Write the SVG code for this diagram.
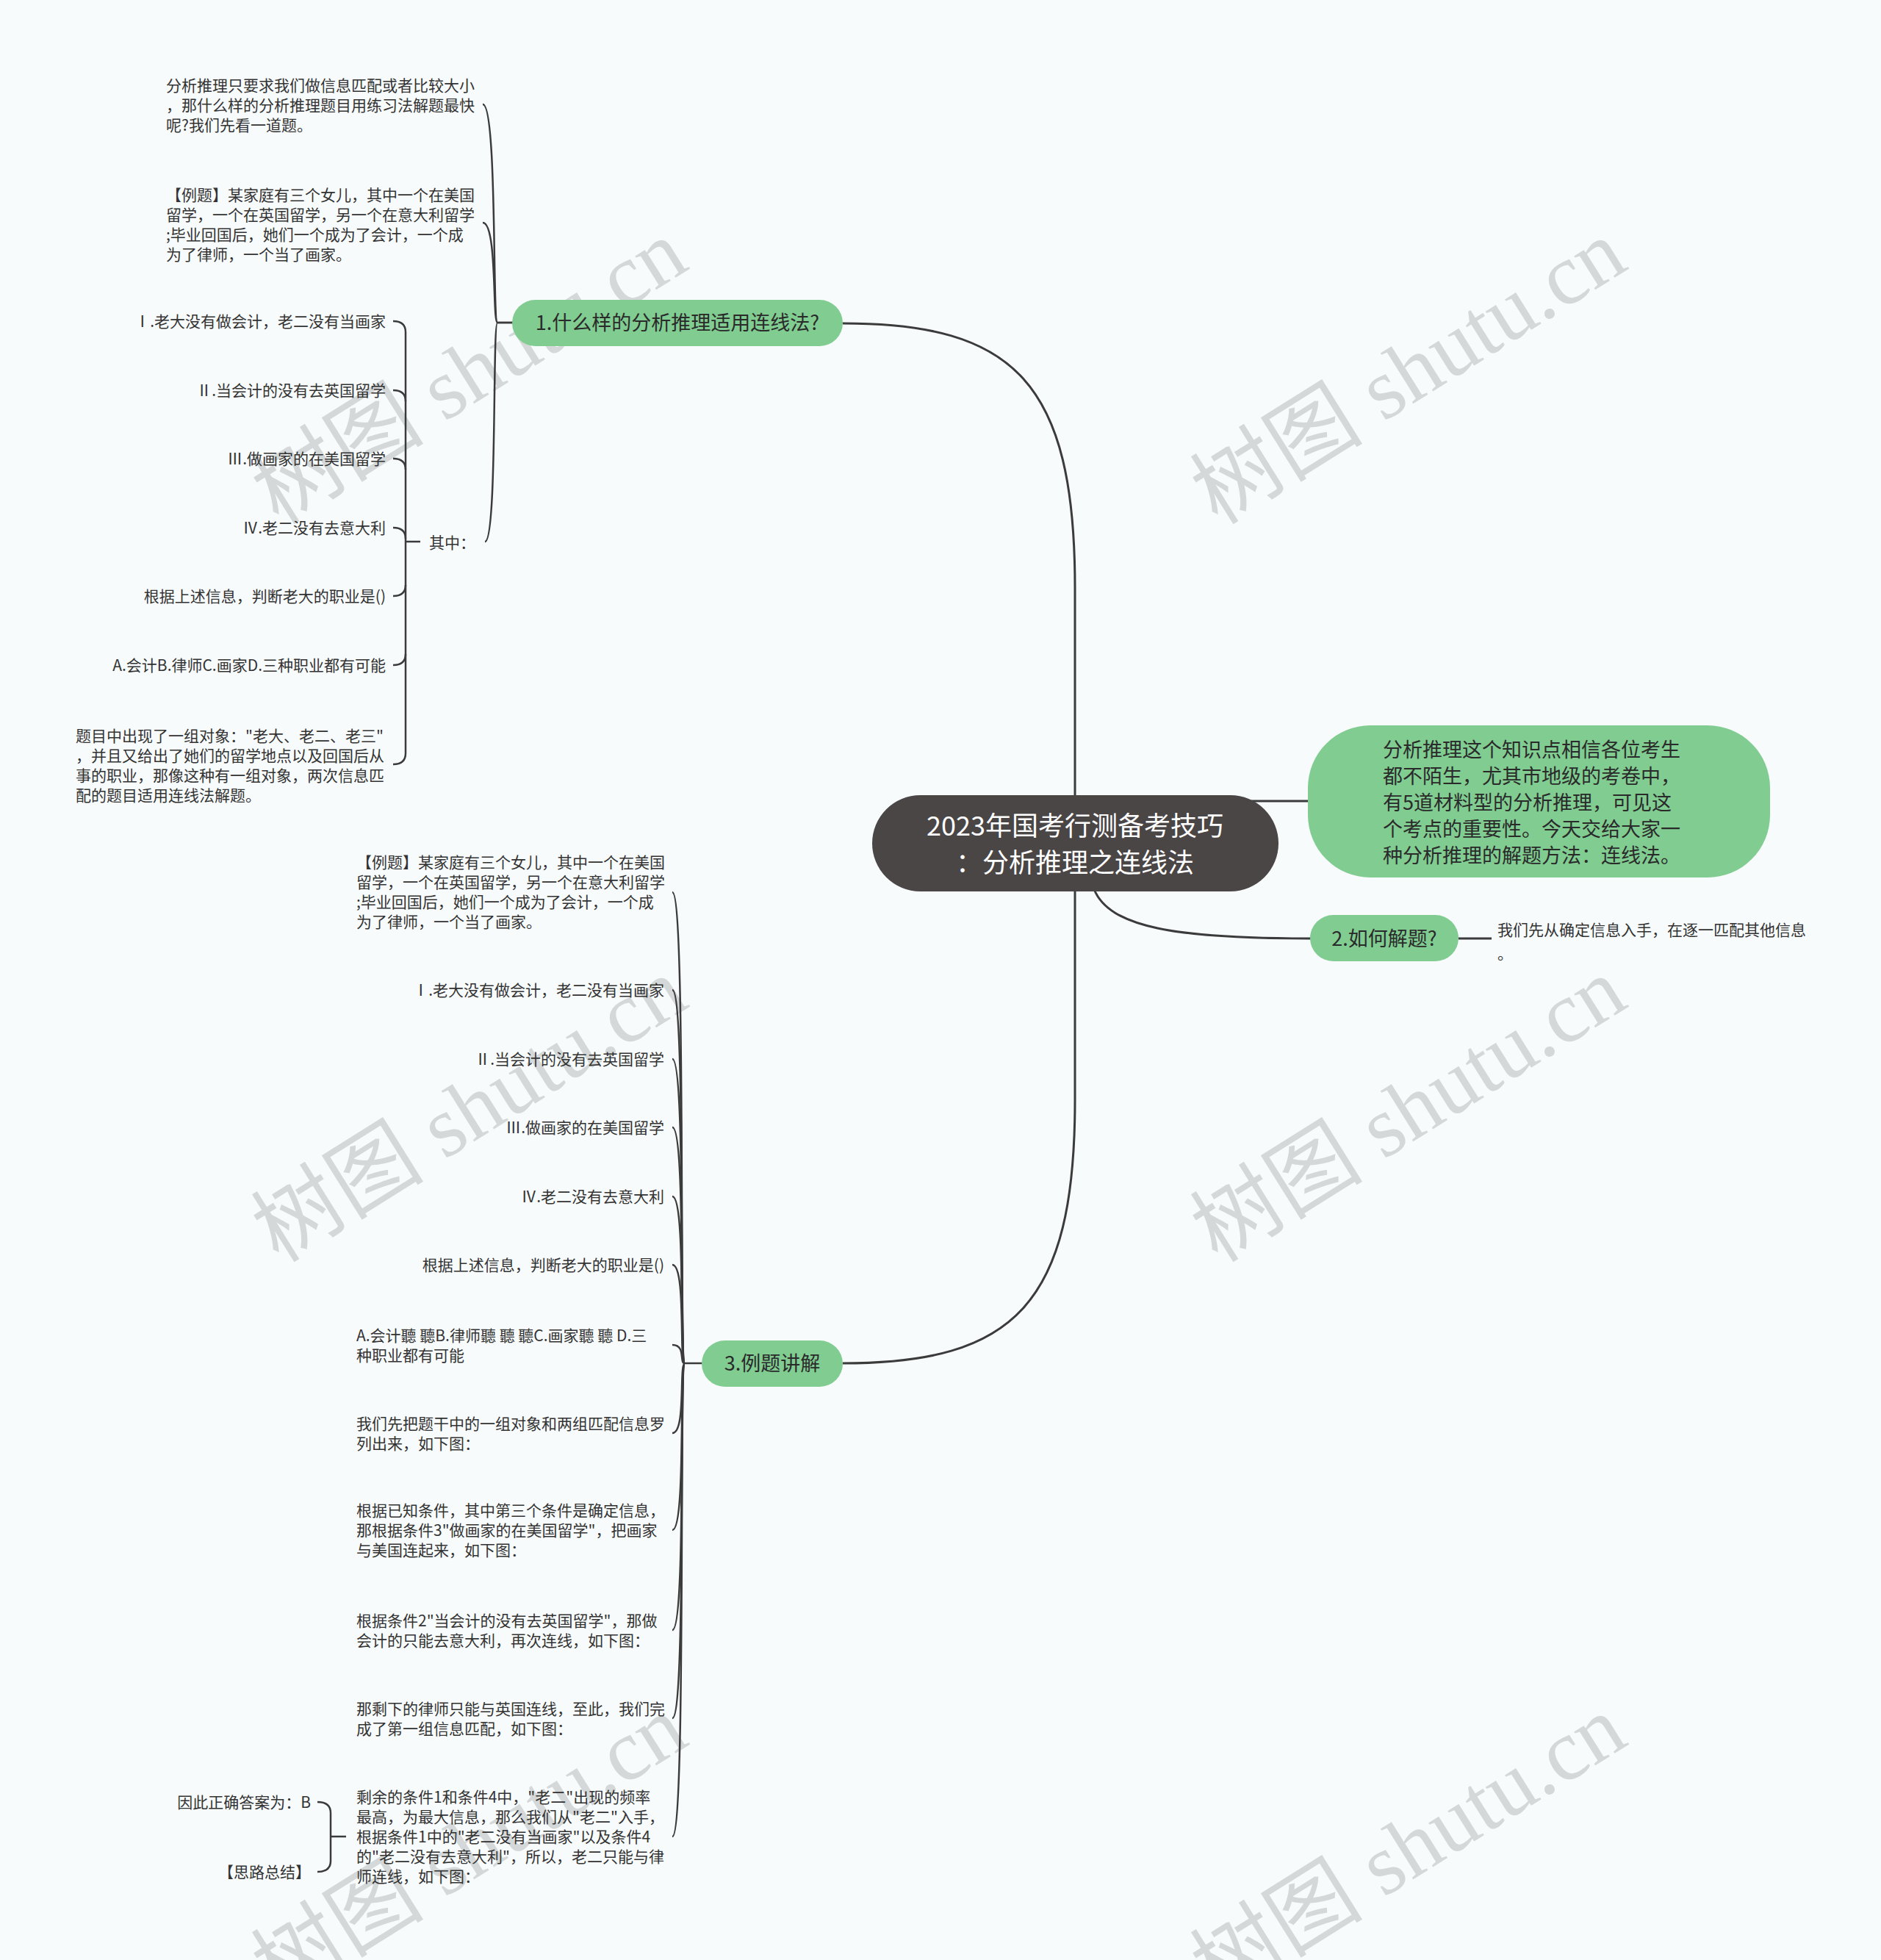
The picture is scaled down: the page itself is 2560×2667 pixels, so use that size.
<svg xmlns="http://www.w3.org/2000/svg" width="2560" height="2667" viewBox="0 0 2560 2667">
<style>
text{font-family:"Noto Sans CJK SC","Noto Sans",sans-serif}
.leaf{font-size:21px;fill:#333333}
.mid{font-size:27px;fill:#2a2a2a}
.title{font-size:36px;fill:#ffffff}
.end{text-anchor:end}
.mdl{text-anchor:middle}
.conn{fill:none;stroke:#3b3b3b;stroke-width:3}
.fan{fill:none;stroke:#3b3b3b;stroke-width:2.5}
.green{fill:#80cc91}
.wm{font-family:"Liberation Serif","Noto Sans CJK SC",serif;font-size:118px;fill:#c9cdcd;opacity:0.75}
</style>
<rect x="0" y="0" width="2560" height="2667" fill="#f8fbfc"/>

<g id="watermarks">
<text class="wm mdl" transform="translate(660,540) rotate(-32)">树图 shutu.cn</text>
<text class="wm mdl" transform="translate(1938,540) rotate(-32)">树图 shutu.cn</text>
<text class="wm mdl" transform="translate(660,1544) rotate(-32)">树图 shutu.cn</text>
<text class="wm mdl" transform="translate(1938,1544) rotate(-32)">树图 shutu.cn</text>
<text class="wm mdl" transform="translate(660,2548) rotate(-32)">树图 shutu.cn</text>
<text class="wm mdl" transform="translate(1938,2548) rotate(-32)">树图 shutu.cn</text>
</g>

<g id="connectors">
<!-- central to main branches -->
<path class="conn" d="M1463,1100 L1463,800 C1463,520 1380,440 1147,440"/>
<path class="conn" d="M1463,1200 L1463,1497 C1463,1775 1380,1855 1147,1855"/>
<path class="conn" d="M1700,1090 L1782,1090"/>
<path class="conn" d="M1489,1210 C1510,1262 1600,1277 1784,1277"/>
<path class="conn" d="M1985,1277 L2030,1277"/>
<!-- node 1 children -->
<path class="fan" d="M657,142 C677,142 670,439 677,439 H700"/>
<path class="fan" d="M657,303 C677,303 670,439 677,439 H700"/>
<path class="fan" d="M660,737 C677,737 670,439 677,439"/>
<!-- 其中 bracket -->
<path class="fan" d="M572,737 H552"/>
<path class="fan" d="M535,437 Q552,437 552,452 V1025 Q552,1040 535,1040"/>
<path class="fan" d="M535,531 Q552,531 552,546"/>
<path class="fan" d="M535,624 Q552,624 552,639"/>
<path class="fan" d="M535,718 Q552,718 552,733"/>
<path class="fan" d="M535,811 Q552,811 552,796"/>
<path class="fan" d="M535,905 Q552,905 552,890"/>
<!-- node 3 children -->
<path class="fan" d="M915,1214 C934,1214 924,1855 932,1855 H958"/>
<path class="fan" d="M915,1347 C934,1347 924,1855 932,1855"/>
<path class="fan" d="M915,1441 C934,1441 924,1855 932,1855"/>
<path class="fan" d="M915,1534 C934,1534 924,1855 932,1855"/>
<path class="fan" d="M915,1628 C934,1628 924,1855 932,1855"/>
<path class="fan" d="M915,1721 C934,1721 924,1855 932,1855"/>
<path class="fan" d="M915,1830 C934,1830 924,1855 932,1855"/>
<path class="fan" d="M915,1950 C934,1950 924,1855 932,1855"/>
<path class="fan" d="M915,2082 C934,2082 924,1855 932,1855"/>
<path class="fan" d="M915,2218 C934,2218 924,1855 932,1855"/>
<path class="fan" d="M915,2338 C934,2338 924,1855 932,1855"/>
<path class="fan" d="M915,2499 C934,2499 924,1855 932,1855"/>
<!-- answer bracket -->
<path class="fan" d="M471,2499 H450"/>
<path class="fan" d="M432,2452 Q450,2452 450,2467 V2532 Q450,2547 432,2547"/>
</g>

<g id="node-center">
<rect x="1187" y="1082" width="553" height="131" rx="65.5" fill="#4b4646"/>
<text class="title mdl" x="1463" y="1137">2023年国考行测备考技巧</text>
<text class="title mdl" x="1463" y="1187">：分析推理之连线法</text>
</g>

<g id="node-summary">
<rect class="green" x="1780" y="987" width="629" height="207" rx="85"/>
<text class="mid" x="1882" y="1030">分析推理这个知识点相信各位考生</text>
<text class="mid" x="1882" y="1066">都不陌生，尤其市地级的考卷中，</text>
<text class="mid" x="1882" y="1102">有5道材料型的分析推理，可见这</text>
<text class="mid" x="1882" y="1138">个考点的重要性。今天交给大家一</text>
<text class="mid" x="1882" y="1174">种分析推理的解题方法：连线法。</text>
</g>

<g id="node-2">
<rect class="green" x="1783" y="1245" width="202" height="63" rx="31.5"/>
<text class="mid mdl" x="1884" y="1287">2.如何解题?</text>
</g>
<g id="node-2-1">
<text class="leaf" x="2038" y="1273">我们先从确定信息入手，在逐一匹配其他信息</text>
<text class="leaf" x="2038" y="1305">。</text>
</g>

<g id="node-1">
<rect class="green" x="697" y="408" width="450" height="63" rx="31.5"/>
<text class="mid mdl" x="922" y="449">1.什么样的分析推理适用连线法?</text>
</g>
<g id="node-1-1">
<text class="leaf" x="226" y="124">分析推理只要求我们做信息匹配或者比较大小</text>
<text class="leaf" x="226" y="151">，那什么样的分析推理题目用练习法解题最快</text>
<text class="leaf" x="226" y="178">呢?我们先看一道题。</text>
</g>
<g id="node-1-2">
<text class="leaf" x="226" y="273">【例题】某家庭有三个女儿，其中一个在美国</text>
<text class="leaf" x="226" y="300">留学，一个在英国留学，另一个在意大利留学</text>
<text class="leaf" x="226" y="327">;毕业回国后，她们一个成为了会计，一个成</text>
<text class="leaf" x="226" y="354">为了律师，一个当了画家。</text>
</g>
<g id="node-1-3">
<text class="leaf" x="584" y="746">其中：</text>
</g>
<g id="node-1-3-1"><text class="leaf end" x="525" y="445">Ⅰ.老大没有做会计，老二没有当画家</text></g>
<g id="node-1-3-2"><text class="leaf end" x="525" y="539">Ⅱ.当会计的没有去英国留学</text></g>
<g id="node-1-3-3"><text class="leaf end" x="525" y="632">Ⅲ.做画家的在美国留学</text></g>
<g id="node-1-3-4"><text class="leaf end" x="525" y="726">Ⅳ.老二没有去意大利</text></g>
<g id="node-1-3-5"><text class="leaf end" x="525" y="819">根据上述信息，判断老大的职业是()</text></g>
<g id="node-1-3-6"><text class="leaf end" x="525" y="913">A.会计B.律师C.画家D.三种职业都有可能</text></g>
<g id="node-1-3-7">
<text class="leaf" x="103" y="1009">题目中出现了一组对象：&quot;老大、老二、老三&quot;</text>
<text class="leaf" x="103" y="1036">，并且又给出了她们的留学地点以及回国后从</text>
<text class="leaf" x="103" y="1063">事的职业，那像这种有一组对象，两次信息匹</text>
<text class="leaf" x="103" y="1090">配的题目适用连线法解题。</text>
</g>

<g id="node-3">
<rect class="green" x="955" y="1824" width="192" height="63" rx="31.5"/>
<text class="mid mdl" x="1051" y="1865">3.例题讲解</text>
</g>
<g id="node-3-1">
<text class="leaf" x="485" y="1181">【例题】某家庭有三个女儿，其中一个在美国</text>
<text class="leaf" x="485" y="1208">留学，一个在英国留学，另一个在意大利留学</text>
<text class="leaf" x="485" y="1235">;毕业回国后，她们一个成为了会计，一个成</text>
<text class="leaf" x="485" y="1262">为了律师，一个当了画家。</text>
</g>
<g id="node-3-2"><text class="leaf end" x="904" y="1355">Ⅰ.老大没有做会计，老二没有当画家</text></g>
<g id="node-3-3"><text class="leaf end" x="904" y="1449">Ⅱ.当会计的没有去英国留学</text></g>
<g id="node-3-4"><text class="leaf end" x="904" y="1542">Ⅲ.做画家的在美国留学</text></g>
<g id="node-3-5"><text class="leaf end" x="904" y="1636">Ⅳ.老二没有去意大利</text></g>
<g id="node-3-6"><text class="leaf end" x="904" y="1729">根据上述信息，判断老大的职业是()</text></g>
<g id="node-3-7">
<text class="leaf" x="485" y="1825">A.会计聽 聽B.律师聽 聽 聽C.画家聽 聽 D.三</text>
<text class="leaf" x="485" y="1852">种职业都有可能</text>
</g>
<g id="node-3-8">
<text class="leaf" x="485" y="1945">我们先把题干中的一组对象和两组匹配信息罗</text>
<text class="leaf" x="485" y="1972">列出来，如下图：</text>
</g>
<g id="node-3-9">
<text class="leaf" x="485" y="2063">根据已知条件，其中第三个条件是确定信息，</text>
<text class="leaf" x="485" y="2090">那根据条件3&quot;做画家的在美国留学&quot;，把画家</text>
<text class="leaf" x="485" y="2117">与美国连起来，如下图：</text>
</g>
<g id="node-3-10">
<text class="leaf" x="485" y="2213">根据条件2&quot;当会计的没有去英国留学&quot;，那做</text>
<text class="leaf" x="485" y="2240">会计的只能去意大利，再次连线，如下图：</text>
</g>
<g id="node-3-11">
<text class="leaf" x="485" y="2333">那剩下的律师只能与英国连线，至此，我们完</text>
<text class="leaf" x="485" y="2360">成了第一组信息匹配，如下图：</text>
</g>
<g id="node-3-12">
<text class="leaf" x="485" y="2453">剩余的条件1和条件4中，&quot;老二&quot;出现的频率</text>
<text class="leaf" x="485" y="2480">最高，为最大信息，那么我们从&quot;老二&quot;入手，</text>
<text class="leaf" x="485" y="2507">根据条件1中的&quot;老二没有当画家&quot;以及条件4</text>
<text class="leaf" x="485" y="2534">的&quot;老二没有去意大利&quot;，所以，老二只能与律</text>
<text class="leaf" x="485" y="2561">师连线，如下图：</text>
</g>
<g id="node-3-12-1"><text class="leaf end" x="423" y="2460">因此正确答案为：B</text></g>
<g id="node-3-12-2"><text class="leaf end" x="423" y="2555">【思路总结】</text></g>
</svg>
